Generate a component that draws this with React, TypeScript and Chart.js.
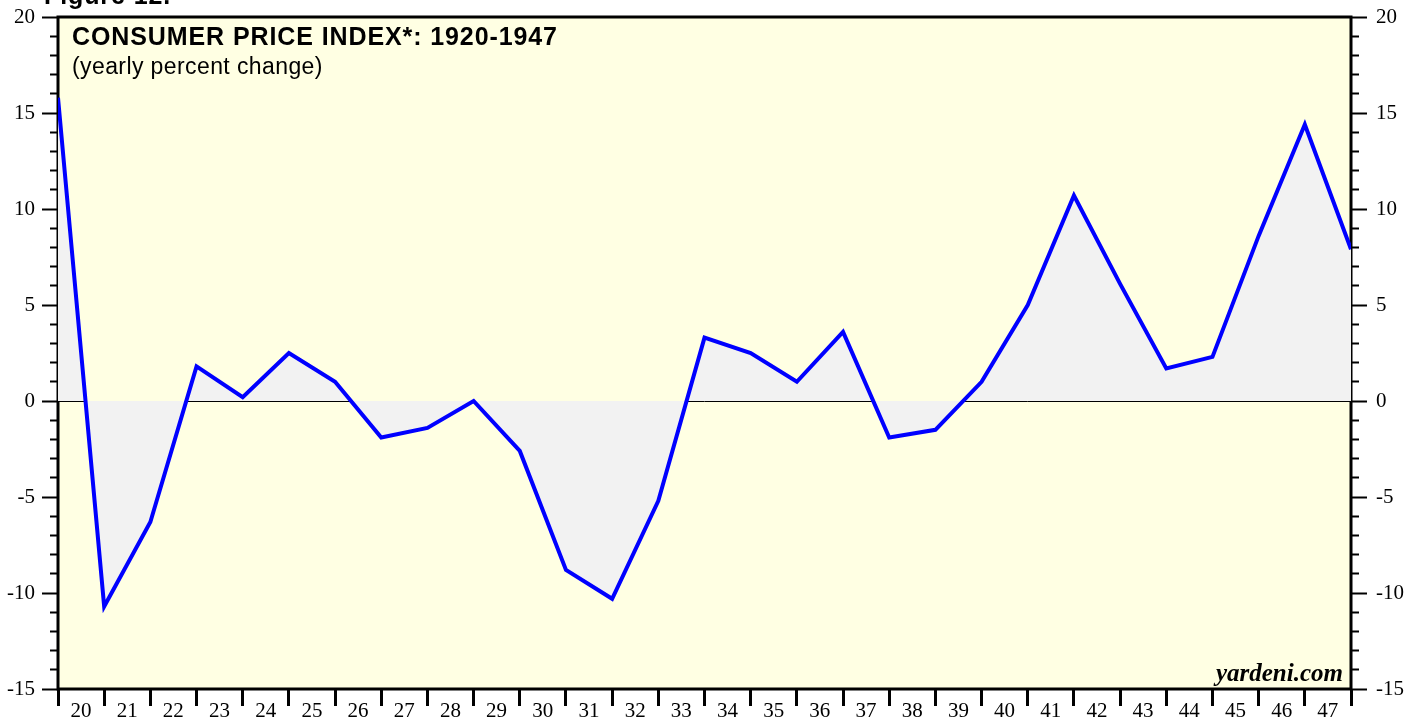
import React, { useEffect, useRef } from 'react';
import { Chart, registerables } from 'chart.js';

Chart.register(...registerables);

// ---- Data ----
const xTickLabels = ['20', '21', '22', '23', '24', '25', '26', '27', '28', '29', '30', '31', '32', '33', '34', '35', '36', '37', '38', '39', '40', '41', '42', '43', '44', '45', '46', '47'];
const cpiYearlyPctChange = [15.8, -10.7, -6.3, 1.8, 0.2, 2.5, 1.0, -1.9, -1.4, 0.0, -2.6, -8.8, -10.3, -5.2, 3.3, 2.5, 1.0, 3.6, -1.9, -1.5, 1.0, 5.0, 10.7, 6.1, 1.7, 2.3, 8.6, 14.4, 7.9];
const yRange = [-15, 20];
const yMajorStep = 5;
const yMinorStep = 1;

const figureLabel = 'Figure 12.';
const chartTitle = 'CONSUMER PRICE INDEX*: 1920-1947';
const chartSubtitle = '(yearly percent change)';
const sourceLabel = 'yardeni.com';

const SERIF = "'Liberation Serif', 'Times New Roman', serif";
const SANS = "'Liberation Sans', Arial, Helvetica, sans-serif";

const decorPlugin = {
  id: 'decor',
  beforeDraw(chart: any) {
    const { ctx, chartArea } = chart;
    const { left, top, right, bottom } = chartArea;
    ctx.save();
    ctx.fillStyle = '#ffffff';
    ctx.fillRect(0, 0, chart.width, chart.height);
    ctx.fillStyle = '#FFFFE3';
    ctx.fillRect(left, top, right - left, bottom - top);
    ctx.restore();
  },
  beforeDatasetsDraw(chart: any) {
    const { ctx, chartArea } = chart;
    const { left, top, right, bottom } = chartArea;
    ctx.save();
    ctx.strokeStyle = '#000000';
    ctx.lineWidth = 3;
    ctx.strokeRect(left, top, right - left, bottom - top);
    ctx.restore();
  },
  afterDraw(chart: any) {
    const { ctx, chartArea } = chart;
    const { left, right, bottom } = chartArea;
    ctx.save();
    ctx.fillStyle = '#000000';
    ctx.textAlign = 'left';
    ctx.textBaseline = 'alphabetic';
    ctx.font = `bold 25px ${SANS}`;
    (ctx as any).letterSpacing = '0.9px';
    ctx.fillText(figureLabel, 44, 4);
    ctx.fillText(chartTitle, left + 14, 45);
    ctx.font = `23px ${SANS}`;
    (ctx as any).letterSpacing = '0.4px';
    ctx.fillText(chartSubtitle, left + 14, 74);
    ctx.font = `italic bold 25px ${SERIF}`;
    (ctx as any).letterSpacing = '0px';
    ctx.textAlign = 'right';
    ctx.fillText(sourceLabel, right - 8, bottom - 8);
    ctx.restore();
  },
};

const yMajorCommon = (position: 'left' | 'right', width: number, padding: number) => ({
  type: 'linear',
  position,
  min: yRange[0],
  max: yRange[1],
  weight: 1,
  z: 1,
  border: { display: false },
  grid: {
    drawOnChartArea: position === 'left',
    color: (c: any) => (c.tick && c.tick.value === 0 ? '#000000' : 'rgba(0,0,0,0)'),
    lineWidth: 1,
    drawTicks: true,
    tickLength: 8,
    tickWidth: 2,
    tickColor: '#000000',
  },
  ticks: {
    stepSize: yMajorStep,
    color: '#000000',
    padding,
    font: { family: SERIF, size: 21 },
    callback: (v: any) => String(v),
  },
  afterFit: (scale: any) => {
    scale.width = width;
    scale.paddingTop = 0;
    scale.paddingBottom = 0;
  },
});

const yMinorCommon = (position: 'left' | 'right') => ({
  type: 'linear',
  position,
  min: yRange[0],
  max: yRange[1],
  weight: 0,
  border: { display: false },
  grid: {
    drawOnChartArea: false,
    drawTicks: true,
    tickLength: 8,
    tickWidth: 2,
    tickColor: '#000000',
  },
  ticks: { stepSize: yMinorStep, display: false, autoSkip: false },
  afterFit: (scale: any) => {
    scale.width = 8;
    scale.paddingTop = 0;
    scale.paddingBottom = 0;
  },
});

export default function App() {
  const canvasRef = useRef<HTMLCanvasElement | null>(null);

  useEffect(() => {
    if (!canvasRef.current) return;
    const points = cpiYearlyPctChange.map((v, i) => ({ x: i, y: v }));
    const chart = new Chart(canvasRef.current, {
      type: 'line',
      data: {
        datasets: [
          {
            data: points,
            borderColor: '#0000FF',
            borderWidth: 4,
            backgroundColor: '#F2F2F2',
            fill: 'origin',
            pointRadius: 0,
            tension: 0,
            borderJoinStyle: 'miter',
            yAxisID: 'y',
            xAxisID: 'x',
          },
        ],
      },
      options: {
        responsive: false,
        animation: false,
        events: [],
        layout: { padding: { top: 17, left: 0, right: 0, bottom: 0 } },
        plugins: {
          legend: { display: false },
          tooltip: { enabled: false },
          title: { display: false },
        },
        scales: {
          x: {
            type: 'linear',
            position: 'bottom',
            min: 0,
            max: xTickLabels.length,
            border: { display: false },
            grid: {
              drawOnChartArea: false,
              drawTicks: true,
              tickLength: 17,
              tickWidth: 3,
              tickColor: '#000000',
            },
            ticks: {
              stepSize: 1,
              autoSkip: false,
              maxRotation: 0,
              labelOffset: 23,
              padding: -7,
              color: '#000000',
              font: { family: SERIF, size: 21 },
              callback: (v: any) => (xTickLabels[v] !== undefined ? xTickLabels[v] : ''),
            },
            afterFit: (scale: any) => {
              scale.height = 32;
              scale.paddingLeft = 0;
              scale.paddingRight = 0;
            },
          },
          y: yMajorCommon('left', 50, 7),
          yMinorLeft: yMinorCommon('left'),
          yRight: yMajorCommon('right', 60, 9),
          yMinorRight: yMinorCommon('right'),
        } as any,
      },
      plugins: [decorPlugin],
    } as any);
    return () => chart.destroy();
  }, []);

  return (
    <div style={{ position: 'fixed', left: 0, top: 0, width: 1419, height: 721, background: '#ffffff' }}>
      <canvas ref={canvasRef} width={1419} height={721} style={{ display: 'block', width: 1419, height: 721 }} />
    </div>
  );
}
